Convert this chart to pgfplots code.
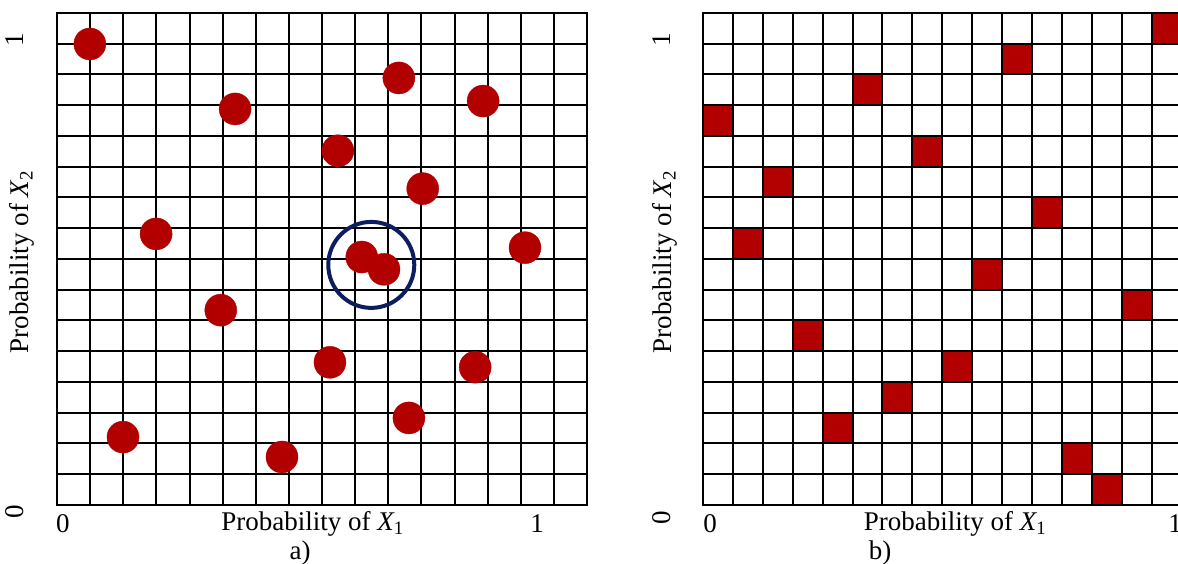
\documentclass[border=0pt]{standalone}
\usepackage{pgfplots}
\pgfplotsset{compat=1.18}
\usepackage{fontspec}
\setmainfont{Liberation Serif}
\definecolor{dotred}{RGB}{178,0,0}
\definecolor{navy}{RGB}{12,30,95}
\begin{document}
\fontsize{27bp}{32bp}\selectfont
\begin{tikzpicture}[x=1bp,y=1bp]
\clip (-57,-59) rectangle (1121,505);
\pgfplotsset{
  gridax/.style={
    scale only axis, anchor=south west,
    xticklabels={,,}, yticklabels={,,},
    major tick length=0pt,
    grid=major, grid style={black, line width=2bp},
    axis line style={black, line width=2.2bp},
    clip=false,
  }
}
% ---------------- panel a ----------------
\begin{axis}[gridax, at={(0bp,0bp)}, width=530bp, height=492bp,
  xmin=0, xmax=1, ymin=0, ymax=1,
  xtick distance=0.0625, ytick distance=0.0625]
\addplot[only marks, mark=*, mark size=16bp, color=dotred,
  mark options={draw=dotred, fill=dotred}] coordinates {
  (0.062,0.937) (0.336,0.805) (0.645,0.868) (0.804,0.821)
  (0.530,0.720) (0.690,0.643) (0.187,0.551) (0.883,0.523)
  (0.575,0.504) (0.617,0.479) (0.309,0.396) (0.515,0.290)
  (0.789,0.280) (0.1245,0.138) (0.664,0.177) (0.4245,0.0976)
};
\addplot[only marks, mark=o, mark size=43bp,
  mark options={line width=4bp, draw=navy}] coordinates {(0.593,0.488)};
\end{axis}
% ---------------- panel b ----------------
\begin{axis}[gridax, at={(646bp,0bp)}, width=478.4bp, height=492bp,
  xmin=0, xmax=16, ymin=0, ymax=16,
  xtick distance=1, ytick distance=1]
\addplot[only marks, mark=square*, mark size=14.95bp,
  mark options={draw=black, fill=dotred, line width=2bp, yscale=1.0284}] coordinates {
  (15.5,15.5) (10.5,14.5) (5.5,13.5) (0.5,12.5)
  (7.5,11.5) (2.5,10.5) (11.5,9.5) (1.5,8.5)
  (9.5,7.5) (14.5,6.5) (3.5,5.5) (8.5,4.5)
  (6.5,3.5) (4.5,2.5) (12.5,1.5) (13.5,0.5)
};
\end{axis}
% ---------------- labels ----------------
\begin{scope}[every node/.style={inner sep=0pt}]
\node at (6,-19) {0};
\node at (255.5,-19) {Probability of {\itshape X}\textsubscript{1}};
\node at (480,-19) {1};
\node at (243,-48) {a)};
\node[rotate=90] at (-42,465) {1};
\node[rotate=90] at (-42,-7) {0};
\node[rotate=90] at (-35,243) {Probability of {\itshape X}\textsubscript{2}};
\node at (653,-19) {0};
\node at (898,-19) {Probability of {\itshape X}\textsubscript{1}};
\node at (1118,-19) {1};
\node at (823,-48) {b)};
\node[rotate=90] at (605,465) {1};
\node[rotate=90] at (605,-13) {0};
\node[rotate=90] at (608,243) {Probability of {\itshape X}\textsubscript{2}};
\end{scope}
\end{tikzpicture}
\end{document}
